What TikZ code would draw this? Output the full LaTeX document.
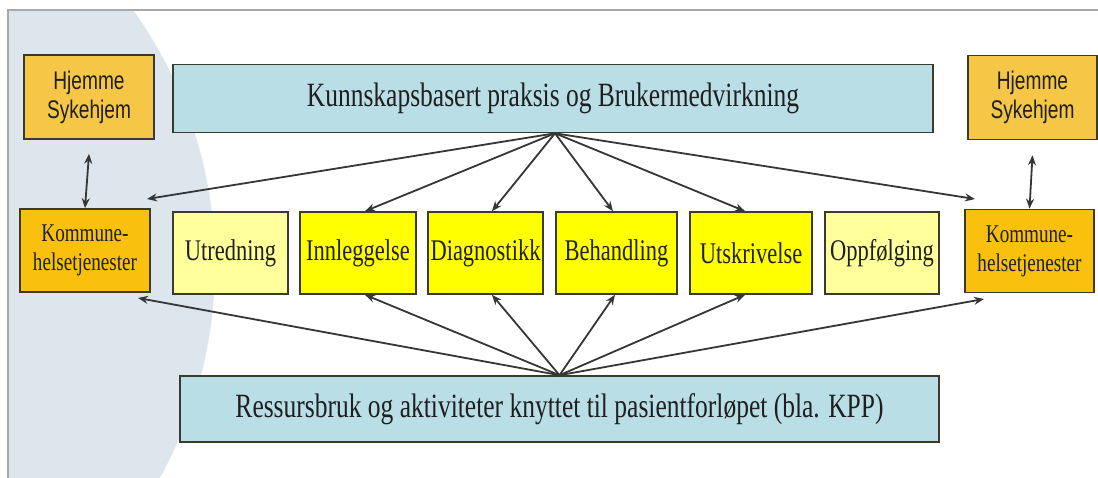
\documentclass[tikz,border=0pt]{standalone}
\usepackage{fontspec}
\usetikzlibrary{arrows.meta}
\newfontfamily\boxserif[FakeStretch=0.75]{Liberation Serif}
\newfontfamily\boxsans[FakeStretch=0.75]{Liberation Sans}
\definecolor{haze}{HTML}{DCE6EC}
\definecolor{frameline}{HTML}{A8A8A8}
\definecolor{bandblue}{HTML}{B9DEE6}
\definecolor{homegold}{HTML}{F6C646}
\definecolor{munigold}{HTML}{F9C10E}
\definecolor{stepyellow}{HTML}{FFFF00}
\definecolor{palestep}{HTML}{FFFF9C}
\definecolor{edge}{HTML}{3A3A2E}
\definecolor{inkline}{HTML}{363636}
\begin{document}
\begin{tikzpicture}[x=1pt,y=-1pt,
  box/.style={draw=edge, line width=1.6pt, rectangle, inner sep=0pt, text=black!88},
  band/.style={box, fill=bandblue, minimum width=760pt, minimum height=68pt,
    font=\boxserif\fontsize{34}{38}\selectfont},
  home/.style={box, fill=homegold, minimum width=130pt, minimum height=84pt, align=center,
    font=\boxsans\fontsize{25.5}{29}\selectfont},
  muni/.style={box, fill=munigold, minimum width=130pt, minimum height=83pt, align=center,
    font=\boxserif\fontsize{25.5}{29}\selectfont},
  stepbox/.style={box, fill=stepyellow, minimum height=82pt,
    font=\boxserif\fontsize{30}{34}\selectfont},
  palebox/.style={stepbox, fill=palestep},
  link/.style={draw=inkline, line width=1.8pt, -{Stealth[length=10pt,width=8pt]}},
  biglink/.style={draw=inkline, line width=1.8pt, {Stealth[length=10pt,width=8pt]}-{Stealth[length=10pt,width=8pt]}}
]
\useasboundingbox (0,0) rectangle (1098,478);
\fill[white] (0,0) rectangle (1098,478);
% pale disc on the left, clipped to the frame
\begin{scope}
  \clip (8,10) rectangle (1098,478);
  \fill[haze] (-222.5,265) circle[radius=437.5pt];
\end{scope}
% frame lines
\draw[frameline, line width=2pt] (8,478) -- (8,10) -- (1098,10);

% bands
\node[band] (top) at (553,98.5) {Kunnskapsbasert praksis og Brukermedvirkning};
\node[band, minimum width=759pt, minimum height=66pt] (bot) at (559.5,409)
  {Ressursbruk og aktiviteter knyttet til pasientforløpet (bla. KPP)};

% home boxes
\node[home] (hl) at (89,97) {Hjemme\\Sykehjem};
\node[home, minimum width=129pt] (hr) at (1032.5,97.5) {Hjemme\\Sykehjem};

% municipal services
\node[muni] (kl) at (85,250.5) {Kommune-\\helsetjenester};
\node[muni, minimum width=129pt] (kr) at (1029.5,251) {Kommune-\\helsetjenester};

% pathway steps
\node[palebox, minimum width=115pt] (utr) at (230.5,253) {Utredning};
\node[stepbox, minimum width=116pt] (inn) at (358,253) {Innleggelse};
\node[stepbox, minimum width=115pt] (dia) at (485.5,253) {Diagnostikk};
\node[stepbox, minimum width=121pt] (beh) at (616.5,253) {Behandling};
\node[stepbox, minimum width=122pt] (uts) at (751,253) {Utskrivelse};
\node[palebox, minimum width=114pt] (opp) at (882,253) {Oppfølging};

% free ends next to the municipal boxes
\coordinate (klTop) at (147,199);
\coordinate (krTop) at (975,199);
\coordinate (klBot) at (138,298);
\coordinate (krBot) at (984,299);

% two-way links
\draw[biglink] ([yshift=-14pt]hl.south) -- (kl.north);
\draw[biglink] ([yshift=-15pt]hr.south) -- (kr.north);

% fan from the upper band
\draw[link] ([xshift=2pt]top.south) -- (klTop);
\draw[link] ([xshift=2pt]top.south) -- ([xshift=7pt]inn.north);
\draw[link] ([xshift=2pt]top.south) -- ([xshift=6.5pt]dia.north);
\draw[link] ([xshift=2pt]top.south) -- ([xshift=-3.5pt]beh.north);
\draw[link] ([xshift=2pt]top.south) -- ([xshift=-6pt]uts.north);
\draw[link] ([xshift=2pt]top.south) -- (krTop);

% fan from the lower band
\draw[link] (bot.north) -- (klBot);
\draw[link] (bot.north) -- ([xshift=7pt]inn.south);
\draw[link] (bot.north) -- ([xshift=6.5pt]dia.south);
\draw[link] (bot.north) -- ([xshift=-1.5pt]beh.south);
\draw[link] (bot.north) -- ([xshift=-6pt]uts.south);
\draw[link] (bot.north) -- (krBot);
\end{tikzpicture}
\end{document}
